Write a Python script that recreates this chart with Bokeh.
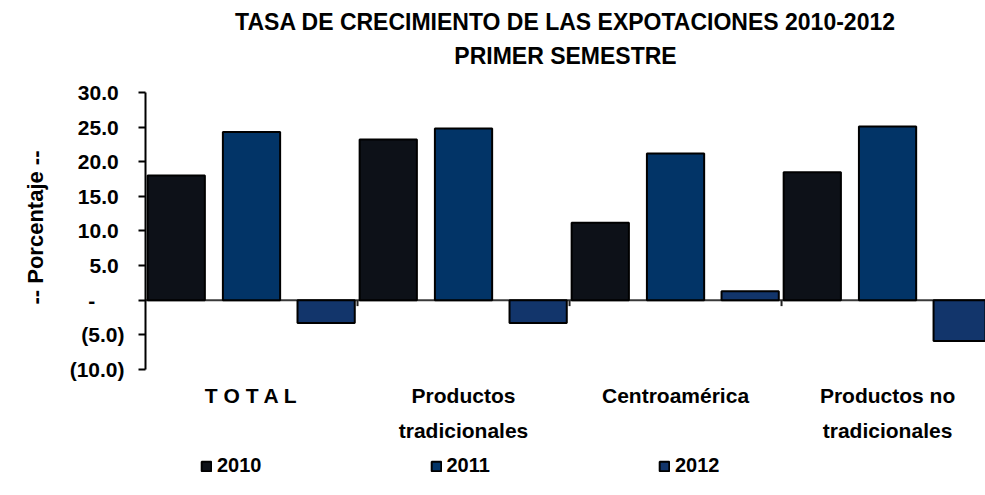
import numpy as np
from bokeh.plotting import figure
from bokeh.models import (Range1d, FixedTicker, Span, Title, Legend, LegendItem,
                          ColumnDataSource)
from bokeh.core.properties import value
from bokeh.embed import file_html
from bokeh.resources import INLINE

# ---- data ----
categories = ["T O T A L", "Productos\ntradicionales", "Centroamérica", "Productos no\ntradicionales"]
years = ["2010", "2011", "2012"]
v2010 = [18.0, 23.2, 11.2, 18.5]
v2011 = [24.3, 24.8, 21.2, 25.1]
v2012 = [-3.3, -3.3, 1.3, -5.9]
y_ticks = [-10, -5, 0, 5, 10, 15, 20, 25, 30]
y_tick_labels = ["(10.0)", "(5.0)", "-", "5.0", "10.0", "15.0", "20.0", "25.0", "30.0"]
title_lines = ["TASA DE CRECIMIENTO DE LAS EXPOTACIONES 2010-2012", "PRIMER SEMESTRE"]
y_title = "-- Porcentaje --"

colors = ["#0D1118", "#023467", "#12356B"]
FONT = "Liberation Sans"
NB = "\u00a0"

Y_AXIS_MIN, Y_AXIS_MAX = -10, 30
Y_VIEW_MIN = -28.2          # frame extends below the axis to hold labels and legend
LABEL_Y = -12.07

p = figure(width=985, height=495, output_backend="svg", toolbar_location=None,
           x_range=Range1d(-0.5, 3.462), y_range=Range1d(Y_VIEW_MIN, Y_AXIS_MAX),
           min_border_left=145, min_border_right=0, min_border_top=92,
           min_border_bottom=0)
p.outline_line_color = None
p.xgrid.visible = False
p.ygrid.visible = False
p.xaxis.visible = False
p.background_fill_color = "white"
p.border_fill_color = "white"

# titles (a thin spacer sits between the second title line and the plot)
p.title.visible = False
spacer = Title(text=" ", align="center", text_font=FONT, text_font_size="1px",
               text_color="white", standoff=18)
t2 = Title(text=title_lines[1], align="center", text_font=FONT,
           text_font_size="23px", text_font_style="bold", text_color="black",
           standoff=6)
t1 = Title(text=title_lines[0], align="center", text_font=FONT,
           text_font_size="23px", text_font_style="bold", text_color="black",
           standoff=6)
p.add_layout(spacer, "above")
p.add_layout(t2, "above")
p.add_layout(t1, "above")

# zero line
p.add_layout(Span(location=0, dimension="width", line_color="#3a3a3a",
                  line_width=2, level="underlay"))

idx = np.arange(len(categories))
offsets = [-0.355, 0.0, 0.352]
renderers = []
for vals, off, col in zip([v2010, v2011, v2012], offsets, colors):
    src = ColumnDataSource(dict(x=(idx + off).tolist(), top=vals))
    r = p.vbar(x="x", top="top", bottom=0, width=0.27, source=src,
               fill_color=col, line_color="black", line_width=2)
    renderers.append(r)

# category boundary ticks on the zero line
bounds = (idx[:-1] + 0.5).tolist()
p.segment(x0=bounds, y0=[0] * len(bounds), x1=bounds,
          y1=[-0.85] * len(bounds), line_color="#222222", line_width=2)

# category labels
p.text(x=idx.tolist(), y=[LABEL_Y] * len(categories), text=categories,
       text_align="center", text_baseline="top", text_font=value(FONT),
       text_font_size="21px", text_font_style="bold", text_color="black",
       text_line_height=1.55)

# y axis
yax = p.yaxis[0]
yax.bounds = (Y_AXIS_MIN, Y_AXIS_MAX)
yax.ticker = FixedTicker(ticks=y_ticks)
overrides = {}
for t, lab in zip(y_ticks, y_tick_labels):
    if t > 0:
        lab = lab + NB
    elif t == 0:
        lab = lab + NB * 5
    overrides[t] = lab
yax.major_label_overrides = overrides
yax.minor_tick_line_color = None
yax.major_tick_in = 0
yax.major_tick_out = 7
yax.major_tick_line_width = 2
yax.major_tick_line_color = "black"
yax.axis_line_color = "black"
yax.axis_line_width = 2
yax.major_label_text_font = FONT
yax.major_label_text_font_size = "21px"
yax.major_label_text_font_style = "bold"
yax.major_label_text_color = "black"
yax.major_label_standoff = 14

# y axis title (placed as a side title so it centres on the axis span)
yt = Title(text=y_title, align="right", offset=58,
           text_font=FONT, text_font_size="22px", text_font_style="bold",
           text_color="black", standoff=37)
p.add_layout(yt, "left")

# legend
legend = Legend(items=[LegendItem(label=y, renderers=[r]) for y, r in zip(years, renderers)],
                orientation="horizontal", location=(55, 18),
                label_text_font=FONT, label_text_font_size="20px",
                label_text_font_style="bold", label_text_color="black",
                glyph_width=12, glyph_height=12, label_standoff=5, spacing=168,
                padding=0, margin=0, border_line_color=None,
                background_fill_alpha=0)
p.add_layout(legend)

open("out.html", "w").write(file_html(p, INLINE))
